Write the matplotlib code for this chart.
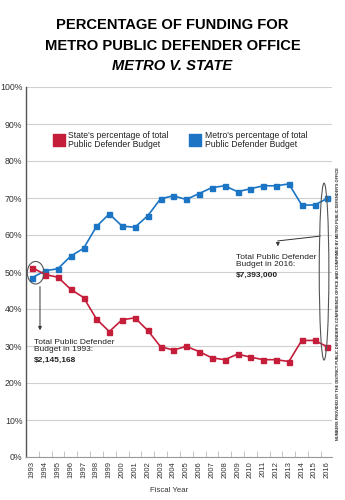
import matplotlib
matplotlib.use("Agg")
import matplotlib.pyplot as plt
from matplotlib.patches import Ellipse

years = [str(y) for y in range(1993, 2017)]
metro_pct = [48.5, 50.3, 50.9, 54.3, 56.4, 62.3, 65.7, 62.4, 62.1, 65.2, 69.8, 70.6,
             69.6, 71.2, 72.8, 73.3, 71.7, 72.5, 73.3, 73.3, 73.8, 68.1, 68.1, 69.9]
state_pct = [51.2, 49.3, 48.6, 45.3, 43.1, 37.3, 33.9, 37.1, 37.6, 34.2, 29.8, 28.9,
             29.9, 28.5, 26.8, 26.3, 27.8, 27.0, 26.3, 26.3, 25.8, 31.5, 31.5, 29.8]
y_ticks = [0, 10, 20, 30, 40, 50, 60, 70, 80, 90, 100]

RED = "#c41e3a"
BLUE = "#1b75c4"
INK = "#222222"

plt.rcParams["font.family"] = ["Liberation Sans", "DejaVu Sans"]

fig = plt.figure(figsize=(3.45, 5.0), dpi=100)
ax = fig.add_axes([0.075, 0.086, 0.887, 0.74])

x = list(range(len(years)))
ax.plot(x, metro_pct, color=BLUE, lw=1.2, marker="s", ms=3.6, zorder=3)
ax.plot(x, state_pct, color=RED, lw=1.2, marker="s", ms=3.6, zorder=3)

ax.set_xlim(-0.5, 23.35)
ax.set_ylim(0, 100)
ax.set_yticks(y_ticks)
ax.set_yticklabels([f"{v}%" for v in y_ticks], fontsize=6.3, color="#333333")
ax.set_xticks(x)
ax.set_xticklabels(years, rotation=90, fontsize=5.5, color="#333333")
ax.tick_params(axis="x", length=0, pad=3)
ax.tick_params(axis="y", length=0, pad=2.5)
ax.set_xticks([i + 0.5 for i in x[:-1]], minor=True)
ax.tick_params(axis="x", which="minor", direction="in", length=4, color="#bbbbbb")
ax.grid(axis="y", color="#d0d0d0", lw=0.8)
ax.set_axisbelow(True)
for s in ["top", "right"]:
    ax.spines[s].set_visible(False)
ax.spines["left"].set_color("#555555")
ax.spines["left"].set_linewidth(1.0)
ax.spines["bottom"].set_color("#999999")
fig.text(0.49, 0.02, "Fiscal Year", fontsize=5.6, color="#333333", ha="center", va="center")

# legend boxes
ax.scatter([2.12], [85.8], marker="s", s=85, color=RED, zorder=4)
ax.text(2.78, 85.6, "State's percentage of total\nPublic Defender Budget", fontsize=6.2,
        va="center", ha="left", linespacing=0.95, color=INK)
ax.scatter([12.7], [85.8], marker="s", s=85, color=BLUE, zorder=4)
ax.text(13.45, 85.6, "Metro's percentage of total\nPublic Defender Budget", fontsize=6.2,
        va="center", ha="left", linespacing=0.95, color=INK)

# 1993 callout
ax.add_patch(Ellipse((0.26, 49.8), 1.3, 6.1, fill=False, ec="#555555", lw=0.8, zorder=5))
ax.annotate("", xy=(0.6, 33.5), xytext=(0.6, 46.8),
            arrowprops=dict(arrowstyle="-|>", color="#333333", lw=0.7, mutation_scale=5))
ax.text(0.12, 31.8, "Total Public Defender\nBudget in 1993:", fontsize=6.0, va="top",
        ha="left", linespacing=1.0, color=INK)
ax.text(0.12, 27.1, "$2,145,168", fontsize=6.0, va="top", ha="left", fontweight="bold",
        color=INK)

# 2016 callout
ax.add_patch(Ellipse((22.74, 50.1), 0.75, 47.8, fill=False, ec="#555555", lw=0.8, zorder=5))
ax.plot([22.44, 19.14], [59.7, 58.4], color="#333333", lw=0.7)
ax.annotate("", xy=(19.14, 56.2), xytext=(19.14, 58.5),
            arrowprops=dict(arrowstyle="-|>", color="#333333", lw=0.7, mutation_scale=5))
ax.text(15.9, 54.8, "Total Public Defender\nBudget in 2016:", fontsize=6.0, va="top",
        ha="left", linespacing=1.0, color=INK)
ax.text(15.9, 50.1, "$7,393,000", fontsize=6.0, va="top", ha="left", fontweight="bold",
        color=INK)

# title
fig.text(0.5, 0.95, "PERCENTAGE OF FUNDING FOR", ha="center", va="center",
         fontsize=10.6, fontweight="bold", color="black")
fig.text(0.5, 0.908, "METRO PUBLIC DEFENDER OFFICE", ha="center", va="center",
         fontsize=10.6, fontweight="bold", color="black")
fig.text(0.5, 0.869, "METRO V. STATE", ha="center", va="center", fontsize=10.6,
         fontweight="bold", style="italic", color="black")

# source note
fig.text(0.98, 0.392, "NUMBERS PROVIDED BY THE DISTRICT PUBLIC DEFENDER'S CONFERENCE OFFICE "
         "AND CONFIRMED BY METRO PUBLIC DEFENDER'S OFFICE", rotation=90, ha="center",
         va="center", fontsize=2.8, fontweight="bold", color=INK)

fig.savefig("out.png", dpi=100)
